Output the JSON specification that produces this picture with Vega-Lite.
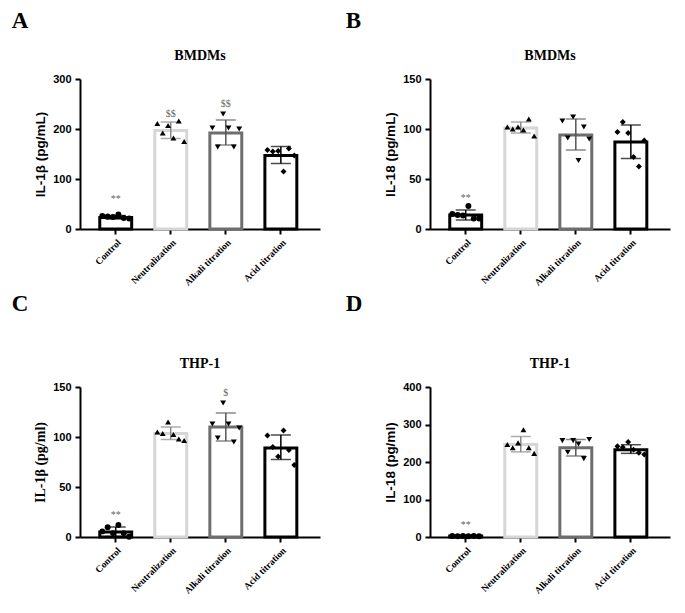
{
  "$schema": "https://vega.github.io/schema/vega-lite/v6.json",
  "background": "white",
  "padding": {"left": 11, "top": 10, "right": 5, "bottom": 5},
  "datasets": {
    "bars": [
      {"panel": "A", "group": "Control", "mean": 23, "lo": 20, "hi": 27, "ann": "**", "annY": 60},
      {"panel": "A", "group": "Neutralization", "mean": 197, "lo": 181, "hi": 214, "ann": "$$", "annY": 231},
      {"panel": "A", "group": "Alkali titration", "mean": 192, "lo": 168, "hi": 218, "ann": "$$", "annY": 251},
      {"panel": "A", "group": "Acid titration", "mean": 147, "lo": 131, "hi": 165, "ann": "", "annY": 0},
      {"panel": "B", "group": "Control", "mean": 14, "lo": 9, "hi": 19, "ann": "**", "annY": 31},
      {"panel": "B", "group": "Neutralization", "mean": 101, "lo": 96, "hi": 107, "ann": "", "annY": 0},
      {"panel": "B", "group": "Alkali titration", "mean": 94, "lo": 79, "hi": 110, "ann": "", "annY": 0},
      {"panel": "B", "group": "Acid titration", "mean": 87, "lo": 70.5, "hi": 104, "ann": "", "annY": 0},
      {"panel": "C", "group": "Control", "mean": 5, "lo": 0.5, "hi": 10, "ann": "**", "annY": 22},
      {"panel": "C", "group": "Neutralization", "mean": 103.5, "lo": 97.5, "hi": 110, "ann": "", "annY": 0},
      {"panel": "C", "group": "Alkali titration", "mean": 110, "lo": 96, "hi": 124, "ann": "$", "annY": 144},
      {"panel": "C", "group": "Acid titration", "mean": 89, "lo": 77.5, "hi": 102, "ann": "", "annY": 0},
      {"panel": "D", "group": "Control", "mean": 2.5, "lo": 2, "hi": 3, "ann": "**", "annY": 32},
      {"panel": "D", "group": "Neutralization", "mean": 246.5, "lo": 227, "hi": 268, "ann": "", "annY": 0},
      {"panel": "D", "group": "Alkali titration", "mean": 238, "lo": 216, "hi": 260, "ann": "", "annY": 0},
      {"panel": "D", "group": "Acid titration", "mean": 233, "lo": 223, "hi": 246, "ann": "", "annY": 0}
    ],
    "points": [
      {"panel": "A", "group": "Control", "rep": 1, "value": 26},
      {"panel": "A", "group": "Control", "rep": 2, "value": 25},
      {"panel": "A", "group": "Control", "rep": 3, "value": 24},
      {"panel": "A", "group": "Control", "rep": 4, "value": 29},
      {"panel": "A", "group": "Control", "rep": 5, "value": 22},
      {"panel": "A", "group": "Control", "rep": 6, "value": 21},
      {"panel": "A", "group": "Neutralization", "rep": 1, "value": 211},
      {"panel": "A", "group": "Neutralization", "rep": 2, "value": 192},
      {"panel": "A", "group": "Neutralization", "rep": 3, "value": 207},
      {"panel": "A", "group": "Neutralization", "rep": 4, "value": 182},
      {"panel": "A", "group": "Neutralization", "rep": 5, "value": 216},
      {"panel": "A", "group": "Neutralization", "rep": 6, "value": 175},
      {"panel": "A", "group": "Alkali titration", "rep": 1, "value": 202},
      {"panel": "A", "group": "Alkali titration", "rep": 2, "value": 164},
      {"panel": "A", "group": "Alkali titration", "rep": 3, "value": 230},
      {"panel": "A", "group": "Alkali titration", "rep": 4, "value": 202},
      {"panel": "A", "group": "Alkali titration", "rep": 5, "value": 164},
      {"panel": "A", "group": "Alkali titration", "rep": 6, "value": 200},
      {"panel": "A", "group": "Acid titration", "rep": 1, "value": 158},
      {"panel": "A", "group": "Acid titration", "rep": 2, "value": 155},
      {"panel": "A", "group": "Acid titration", "rep": 3, "value": 156},
      {"panel": "A", "group": "Acid titration", "rep": 4, "value": 115},
      {"panel": "A", "group": "Acid titration", "rep": 5, "value": 161},
      {"panel": "A", "group": "Acid titration", "rep": 6, "value": 147},
      {"panel": "B", "group": "Control", "rep": 1, "value": 15},
      {"panel": "B", "group": "Control", "rep": 2, "value": 14},
      {"panel": "B", "group": "Control", "rep": 3, "value": 13.5},
      {"panel": "B", "group": "Control", "rep": 4, "value": 23},
      {"panel": "B", "group": "Control", "rep": 5, "value": 10.5},
      {"panel": "B", "group": "Control", "rep": 6, "value": 10.5},
      {"panel": "B", "group": "Neutralization", "rep": 1, "value": 102},
      {"panel": "B", "group": "Neutralization", "rep": 2, "value": 100},
      {"panel": "B", "group": "Neutralization", "rep": 3, "value": 102},
      {"panel": "B", "group": "Neutralization", "rep": 4, "value": 99},
      {"panel": "B", "group": "Neutralization", "rep": 5, "value": 110},
      {"panel": "B", "group": "Neutralization", "rep": 6, "value": 93},
      {"panel": "B", "group": "Alkali titration", "rep": 1, "value": 108},
      {"panel": "B", "group": "Alkali titration", "rep": 2, "value": 91},
      {"panel": "B", "group": "Alkali titration", "rep": 3, "value": 112},
      {"panel": "B", "group": "Alkali titration", "rep": 4, "value": 68.5},
      {"panel": "B", "group": "Alkali titration", "rep": 5, "value": 102},
      {"panel": "B", "group": "Alkali titration", "rep": 6, "value": 90},
      {"panel": "B", "group": "Acid titration", "rep": 1, "value": 97},
      {"panel": "B", "group": "Acid titration", "rep": 2, "value": 107},
      {"panel": "B", "group": "Acid titration", "rep": 3, "value": 96},
      {"panel": "B", "group": "Acid titration", "rep": 4, "value": 72},
      {"panel": "B", "group": "Acid titration", "rep": 5, "value": 62.5},
      {"panel": "B", "group": "Acid titration", "rep": 6, "value": 88.5},
      {"panel": "C", "group": "Control", "rep": 1, "value": 5.6},
      {"panel": "C", "group": "Control", "rep": 2, "value": 9.8},
      {"panel": "C", "group": "Control", "rep": 3, "value": 3.9},
      {"panel": "C", "group": "Control", "rep": 4, "value": 12},
      {"panel": "C", "group": "Control", "rep": 5, "value": 3.9},
      {"panel": "C", "group": "Control", "rep": 6, "value": 0.3},
      {"panel": "C", "group": "Neutralization", "rep": 1, "value": 105},
      {"panel": "C", "group": "Neutralization", "rep": 2, "value": 103.5},
      {"panel": "C", "group": "Neutralization", "rep": 3, "value": 115},
      {"panel": "C", "group": "Neutralization", "rep": 4, "value": 102.5},
      {"panel": "C", "group": "Neutralization", "rep": 5, "value": 98},
      {"panel": "C", "group": "Neutralization", "rep": 6, "value": 96.5},
      {"panel": "C", "group": "Alkali titration", "rep": 1, "value": 113},
      {"panel": "C", "group": "Alkali titration", "rep": 2, "value": 99},
      {"panel": "C", "group": "Alkali titration", "rep": 3, "value": 134},
      {"panel": "C", "group": "Alkali titration", "rep": 4, "value": 113},
      {"panel": "C", "group": "Alkali titration", "rep": 5, "value": 95},
      {"panel": "C", "group": "Alkali titration", "rep": 6, "value": 109},
      {"panel": "C", "group": "Acid titration", "rep": 1, "value": 101.5},
      {"panel": "C", "group": "Acid titration", "rep": 2, "value": 90},
      {"panel": "C", "group": "Acid titration", "rep": 3, "value": 80.5},
      {"panel": "C", "group": "Acid titration", "rep": 4, "value": 106.5},
      {"panel": "C", "group": "Acid titration", "rep": 5, "value": 87},
      {"panel": "C", "group": "Acid titration", "rep": 6, "value": 72},
      {"panel": "D", "group": "Control", "rep": 1, "value": 3},
      {"panel": "D", "group": "Control", "rep": 2, "value": 2},
      {"panel": "D", "group": "Control", "rep": 3, "value": 3},
      {"panel": "D", "group": "Control", "rep": 4, "value": 2},
      {"panel": "D", "group": "Control", "rep": 5, "value": 3},
      {"panel": "D", "group": "Control", "rep": 6, "value": 2},
      {"panel": "D", "group": "Neutralization", "rep": 1, "value": 246.5},
      {"panel": "D", "group": "Neutralization", "rep": 2, "value": 238},
      {"panel": "D", "group": "Neutralization", "rep": 3, "value": 251},
      {"panel": "D", "group": "Neutralization", "rep": 4, "value": 286},
      {"panel": "D", "group": "Neutralization", "rep": 5, "value": 238},
      {"panel": "D", "group": "Neutralization", "rep": 6, "value": 223},
      {"panel": "D", "group": "Alkali titration", "rep": 1, "value": 257},
      {"panel": "D", "group": "Alkali titration", "rep": 2, "value": 226},
      {"panel": "D", "group": "Alkali titration", "rep": 3, "value": 257},
      {"panel": "D", "group": "Alkali titration", "rep": 4, "value": 248},
      {"panel": "D", "group": "Alkali titration", "rep": 5, "value": 209},
      {"panel": "D", "group": "Alkali titration", "rep": 6, "value": 260},
      {"panel": "D", "group": "Acid titration", "rep": 1, "value": 242},
      {"panel": "D", "group": "Acid titration", "rep": 2, "value": 239.5},
      {"panel": "D", "group": "Acid titration", "rep": 3, "value": 253.5},
      {"panel": "D", "group": "Acid titration", "rep": 4, "value": 233},
      {"panel": "D", "group": "Acid titration", "rep": 5, "value": 224.5},
      {"panel": "D", "group": "Acid titration", "rep": 6, "value": 220}
    ]
  },
  "config": {
    "view": {"stroke": null},
    "axis": {
      "domainColor": "black", "domainWidth": 2, "tickColor": "black", "tickWidth": 2, "tickSize": 5,
      "grid": false, "labelColor": "black", "titleColor": "black"
    },
    "axisX": {
      "labelAngle": -45, "labelFont": "Liberation Serif", "labelFontWeight": "bold", "labelFontSize": 9.5,
      "labelAlign": "right", "labelBaseline": "top", "labelPadding": 3, "title": null
    },
    "axisY": {
      "labelFont": "Liberation Sans", "labelFontWeight": "bold", "labelFontSize": 11, "labelPadding": 4, "labelOverlap": false,
      "titleFont": "Liberation Sans", "titleFontWeight": "bold", "titleFontSize": 13.5, "titlePadding": 5
    },
    "title": {"color": "black"},
    "point": {"filled": true, "size": 35, "color": "black", "opacity": 1}
  },
  "resolve": {"scale": {"shape": "independent"}},
  "spacing": 6,
  "vconcat": [
    {
      "spacing": 25,
      "hconcat": [
        {
          "title": {"text": "A", "anchor": "start", "frame": "bounds", "font": "Liberation Serif", "fontWeight": "bold", "fontSize": 23, "offset": 16, "dx": -22},
          "vconcat": [
            {
              "width": 240, "height": 150,
              "title": {"text": "BMDMs", "font": "Liberation Serif", "fontWeight": "bold", "fontSize": 14, "frame": "group", "offset": 10},
              "data": {"name": "bars"},
              "encoding": {
                "x": {"field": "group", "type": "nominal", "sort": ["Control", "Neutralization", "Alkali titration", "Acid titration"],
                      "scale": {"paddingInner": 0.42, "paddingOuter": 0.39, "align": 0.46}}
              },
              "layer": [
                {"transform": [{"filter": "datum.panel === 'A'"}], "mark": {"type": "bar", "fill": "white", "strokeWidth": 3},
                 "encoding": {"y": {"field": "mean", "type": "quantitative", "scale": {"domain": [0, 300], "nice": false}, "axis": {"values": [0, 100, 200, 300]}, "title": "IL-1β (pg/mL)"},
                              "stroke": {"field": "group", "type": "nominal", "scale": {"domain": ["Control", "Neutralization", "Alkali titration", "Acid titration"], "range": ["#000000", "#d6d6d6", "#6e6e6e", "#000000"]}, "legend": null}}},
                {"transform": [{"filter": "datum.panel === 'A'"}], "mark": {"type": "rule", "strokeWidth": 1.5},
                 "encoding": {"y": {"field": "lo", "type": "quantitative", "axis": {"values": [0, 100, 200, 300]}}, "y2": {"field": "hi"},
                              "color": {"field": "group", "type": "nominal", "scale": {"domain": ["Control", "Neutralization", "Alkali titration", "Acid titration"], "range": ["#000000", "#8a8a8a", "#555555", "#000000"]}, "legend": null}}},
                {"transform": [{"filter": "datum.panel === 'A'"}], "mark": {"type": "tick", "size": 20, "thickness": 1.5}, "encoding": {"y": {"field": "lo", "type": "quantitative", "axis": {"values": [0, 100, 200, 300]}}, "color": {"field": "group", "type": "nominal", "legend": null}}},
                {"transform": [{"filter": "datum.panel === 'A'"}], "mark": {"type": "tick", "size": 20, "thickness": 1.5}, "encoding": {"y": {"field": "hi", "type": "quantitative", "axis": {"values": [0, 100, 200, 300]}}, "color": {"field": "group", "type": "nominal", "legend": null}}},
                {"data": {"name": "points"}, "transform": [{"filter": "datum.panel === 'A' && datum.rep === 1"}], "mark": "point",
                 "encoding": {"x": {"field": "group", "type": "nominal", "sort": ["Control", "Neutralization", "Alkali titration", "Acid titration"], "bandPosition": 0.08}, "y": {"field": "value", "type": "quantitative", "axis": {"values": [0, 100, 200, 300]}},
                              "shape": {"field": "group", "type": "nominal", "scale": {"domain": ["Control", "Neutralization", "Alkali titration", "Acid titration"], "range": ["circle", "triangle-up", "triangle-down", "diamond"]}, "legend": null}}},
                {"data": {"name": "points"}, "transform": [{"filter": "datum.panel === 'A' && datum.rep === 2"}], "mark": "point",
                 "encoding": {"x": {"field": "group", "type": "nominal", "sort": ["Control", "Neutralization", "Alkali titration", "Acid titration"], "bandPosition": 0.248}, "y": {"field": "value", "type": "quantitative", "axis": {"values": [0, 100, 200, 300]}}, "shape": {"field": "group", "type": "nominal", "legend": null}}},
                {"data": {"name": "points"}, "transform": [{"filter": "datum.panel === 'A' && datum.rep === 3"}], "mark": "point",
                 "encoding": {"x": {"field": "group", "type": "nominal", "sort": ["Control", "Neutralization", "Alkali titration", "Acid titration"], "bandPosition": 0.416}, "y": {"field": "value", "type": "quantitative", "axis": {"values": [0, 100, 200, 300]}}, "shape": {"field": "group", "type": "nominal", "legend": null}}},
                {"data": {"name": "points"}, "transform": [{"filter": "datum.panel === 'A' && datum.rep === 4"}], "mark": "point",
                 "encoding": {"x": {"field": "group", "type": "nominal", "sort": ["Control", "Neutralization", "Alkali titration", "Acid titration"], "bandPosition": 0.584}, "y": {"field": "value", "type": "quantitative", "axis": {"values": [0, 100, 200, 300]}}, "shape": {"field": "group", "type": "nominal", "legend": null}}},
                {"data": {"name": "points"}, "transform": [{"filter": "datum.panel === 'A' && datum.rep === 5"}], "mark": "point",
                 "encoding": {"x": {"field": "group", "type": "nominal", "sort": ["Control", "Neutralization", "Alkali titration", "Acid titration"], "bandPosition": 0.752}, "y": {"field": "value", "type": "quantitative", "axis": {"values": [0, 100, 200, 300]}}, "shape": {"field": "group", "type": "nominal", "legend": null}}},
                {"data": {"name": "points"}, "transform": [{"filter": "datum.panel === 'A' && datum.rep === 6"}], "mark": "point",
                 "encoding": {"x": {"field": "group", "type": "nominal", "sort": ["Control", "Neutralization", "Alkali titration", "Acid titration"], "bandPosition": 0.92}, "y": {"field": "value", "type": "quantitative", "axis": {"values": [0, 100, 200, 300]}}, "shape": {"field": "group", "type": "nominal", "legend": null}}},
                {"transform": [{"filter": "datum.panel === 'A'"}], "mark": {"type": "text", "font": "Liberation Serif", "fontSize": 10, "color": "#666666"},
                 "encoding": {"y": {"field": "annY", "type": "quantitative", "axis": {"values": [0, 100, 200, 300]}}, "text": {"field": "ann"}}}
              ]
            }
          ]
        },
        {
          "title": {"text": "B", "anchor": "start", "frame": "bounds", "font": "Liberation Serif", "fontWeight": "bold", "fontSize": 23, "offset": 16, "dx": -38},
          "vconcat": [
            {
              "width": 240, "height": 150,
              "title": {"text": "BMDMs", "font": "Liberation Serif", "fontWeight": "bold", "fontSize": 14, "frame": "group", "offset": 10},
              "data": {"name": "bars"},
              "encoding": {
                "x": {"field": "group", "type": "nominal", "sort": ["Control", "Neutralization", "Alkali titration", "Acid titration"],
                      "scale": {"paddingInner": 0.42, "paddingOuter": 0.39, "align": 0.46}}
              },
              "layer": [
                {"transform": [{"filter": "datum.panel === 'B'"}], "mark": {"type": "bar", "fill": "white", "strokeWidth": 3},
                 "encoding": {"y": {"field": "mean", "type": "quantitative", "scale": {"domain": [0, 150], "nice": false}, "axis": {"values": [0, 50, 100, 150]}, "title": "IL-18 (pg/mL)"},
                              "stroke": {"field": "group", "type": "nominal", "scale": {"domain": ["Control", "Neutralization", "Alkali titration", "Acid titration"], "range": ["#000000", "#d6d6d6", "#6e6e6e", "#000000"]}, "legend": null}}},
                {"transform": [{"filter": "datum.panel === 'B'"}], "mark": {"type": "rule", "strokeWidth": 1.5},
                 "encoding": {"y": {"field": "lo", "type": "quantitative", "axis": {"values": [0, 50, 100, 150]}}, "y2": {"field": "hi"},
                              "color": {"field": "group", "type": "nominal", "scale": {"domain": ["Control", "Neutralization", "Alkali titration", "Acid titration"], "range": ["#000000", "#8a8a8a", "#555555", "#000000"]}, "legend": null}}},
                {"transform": [{"filter": "datum.panel === 'B'"}], "mark": {"type": "tick", "size": 20, "thickness": 1.5}, "encoding": {"y": {"field": "lo", "type": "quantitative", "axis": {"values": [0, 50, 100, 150]}}, "color": {"field": "group", "type": "nominal", "legend": null}}},
                {"transform": [{"filter": "datum.panel === 'B'"}], "mark": {"type": "tick", "size": 20, "thickness": 1.5}, "encoding": {"y": {"field": "hi", "type": "quantitative", "axis": {"values": [0, 50, 100, 150]}}, "color": {"field": "group", "type": "nominal", "legend": null}}},
                {"data": {"name": "points"}, "transform": [{"filter": "datum.panel === 'B' && datum.rep === 1"}], "mark": "point",
                 "encoding": {"x": {"field": "group", "type": "nominal", "sort": ["Control", "Neutralization", "Alkali titration", "Acid titration"], "bandPosition": 0.08}, "y": {"field": "value", "type": "quantitative", "axis": {"values": [0, 50, 100, 150]}},
                              "shape": {"field": "group", "type": "nominal", "scale": {"domain": ["Control", "Neutralization", "Alkali titration", "Acid titration"], "range": ["circle", "triangle-up", "triangle-down", "diamond"]}, "legend": null}}},
                {"data": {"name": "points"}, "transform": [{"filter": "datum.panel === 'B' && datum.rep === 2"}], "mark": "point",
                 "encoding": {"x": {"field": "group", "type": "nominal", "sort": ["Control", "Neutralization", "Alkali titration", "Acid titration"], "bandPosition": 0.248}, "y": {"field": "value", "type": "quantitative", "axis": {"values": [0, 50, 100, 150]}}, "shape": {"field": "group", "type": "nominal", "legend": null}}},
                {"data": {"name": "points"}, "transform": [{"filter": "datum.panel === 'B' && datum.rep === 3"}], "mark": "point",
                 "encoding": {"x": {"field": "group", "type": "nominal", "sort": ["Control", "Neutralization", "Alkali titration", "Acid titration"], "bandPosition": 0.416}, "y": {"field": "value", "type": "quantitative", "axis": {"values": [0, 50, 100, 150]}}, "shape": {"field": "group", "type": "nominal", "legend": null}}},
                {"data": {"name": "points"}, "transform": [{"filter": "datum.panel === 'B' && datum.rep === 4"}], "mark": "point",
                 "encoding": {"x": {"field": "group", "type": "nominal", "sort": ["Control", "Neutralization", "Alkali titration", "Acid titration"], "bandPosition": 0.584}, "y": {"field": "value", "type": "quantitative", "axis": {"values": [0, 50, 100, 150]}}, "shape": {"field": "group", "type": "nominal", "legend": null}}},
                {"data": {"name": "points"}, "transform": [{"filter": "datum.panel === 'B' && datum.rep === 5"}], "mark": "point",
                 "encoding": {"x": {"field": "group", "type": "nominal", "sort": ["Control", "Neutralization", "Alkali titration", "Acid titration"], "bandPosition": 0.752}, "y": {"field": "value", "type": "quantitative", "axis": {"values": [0, 50, 100, 150]}}, "shape": {"field": "group", "type": "nominal", "legend": null}}},
                {"data": {"name": "points"}, "transform": [{"filter": "datum.panel === 'B' && datum.rep === 6"}], "mark": "point",
                 "encoding": {"x": {"field": "group", "type": "nominal", "sort": ["Control", "Neutralization", "Alkali titration", "Acid titration"], "bandPosition": 0.92}, "y": {"field": "value", "type": "quantitative", "axis": {"values": [0, 50, 100, 150]}}, "shape": {"field": "group", "type": "nominal", "legend": null}}},
                {"transform": [{"filter": "datum.panel === 'B'"}], "mark": {"type": "text", "font": "Liberation Serif", "fontSize": 10, "color": "#666666"},
                 "encoding": {"y": {"field": "annY", "type": "quantitative", "axis": {"values": [0, 50, 100, 150]}}, "text": {"field": "ann"}}}
              ]
            }
          ]
        }
      ]
    },
    {
      "spacing": 25,
      "hconcat": [
        {
          "title": {"text": "C", "anchor": "start", "frame": "bounds", "font": "Liberation Serif", "fontWeight": "bold", "fontSize": 23, "offset": 41, "dx": -22},
          "vconcat": [
            {
              "width": 240, "height": 150,
              "title": {"text": "THP-1", "font": "Liberation Serif", "fontWeight": "bold", "fontSize": 14, "frame": "group", "offset": 10},
              "data": {"name": "bars"},
              "encoding": {
                "x": {"field": "group", "type": "nominal", "sort": ["Control", "Neutralization", "Alkali titration", "Acid titration"],
                      "scale": {"paddingInner": 0.42, "paddingOuter": 0.39, "align": 0.46}}
              },
              "layer": [
                {"transform": [{"filter": "datum.panel === 'C'"}], "mark": {"type": "bar", "fill": "white", "strokeWidth": 3},
                 "encoding": {"y": {"field": "mean", "type": "quantitative", "scale": {"domain": [0, 150], "nice": false}, "axis": {"values": [0, 50, 100, 150], "titleFont": "Liberation Serif", "titleFontSize": 14}, "title": "IL-1β (pg/ml)"},
                              "stroke": {"field": "group", "type": "nominal", "scale": {"domain": ["Control", "Neutralization", "Alkali titration", "Acid titration"], "range": ["#000000", "#d6d6d6", "#6e6e6e", "#000000"]}, "legend": null}}},
                {"transform": [{"filter": "datum.panel === 'C'"}], "mark": {"type": "rule", "strokeWidth": 1.5},
                 "encoding": {"y": {"field": "lo", "type": "quantitative", "axis": {"values": [0, 50, 100, 150], "titleFont": "Liberation Serif", "titleFontSize": 14}}, "y2": {"field": "hi"},
                              "color": {"field": "group", "type": "nominal", "scale": {"domain": ["Control", "Neutralization", "Alkali titration", "Acid titration"], "range": ["#000000", "#8a8a8a", "#555555", "#000000"]}, "legend": null}}},
                {"transform": [{"filter": "datum.panel === 'C'"}], "mark": {"type": "tick", "size": 20, "thickness": 1.5}, "encoding": {"y": {"field": "lo", "type": "quantitative", "axis": {"values": [0, 50, 100, 150], "titleFont": "Liberation Serif", "titleFontSize": 14}}, "color": {"field": "group", "type": "nominal", "legend": null}}},
                {"transform": [{"filter": "datum.panel === 'C'"}], "mark": {"type": "tick", "size": 20, "thickness": 1.5}, "encoding": {"y": {"field": "hi", "type": "quantitative", "axis": {"values": [0, 50, 100, 150], "titleFont": "Liberation Serif", "titleFontSize": 14}}, "color": {"field": "group", "type": "nominal", "legend": null}}},
                {"data": {"name": "points"}, "transform": [{"filter": "datum.panel === 'C' && datum.rep === 1"}], "mark": "point",
                 "encoding": {"x": {"field": "group", "type": "nominal", "sort": ["Control", "Neutralization", "Alkali titration", "Acid titration"], "bandPosition": 0.08}, "y": {"field": "value", "type": "quantitative", "axis": {"values": [0, 50, 100, 150], "titleFont": "Liberation Serif", "titleFontSize": 14}},
                              "shape": {"field": "group", "type": "nominal", "scale": {"domain": ["Control", "Neutralization", "Alkali titration", "Acid titration"], "range": ["circle", "triangle-up", "triangle-down", "diamond"]}, "legend": null}}},
                {"data": {"name": "points"}, "transform": [{"filter": "datum.panel === 'C' && datum.rep === 2"}], "mark": "point",
                 "encoding": {"x": {"field": "group", "type": "nominal", "sort": ["Control", "Neutralization", "Alkali titration", "Acid titration"], "bandPosition": 0.248}, "y": {"field": "value", "type": "quantitative", "axis": {"values": [0, 50, 100, 150], "titleFont": "Liberation Serif", "titleFontSize": 14}}, "shape": {"field": "group", "type": "nominal", "legend": null}}},
                {"data": {"name": "points"}, "transform": [{"filter": "datum.panel === 'C' && datum.rep === 3"}], "mark": "point",
                 "encoding": {"x": {"field": "group", "type": "nominal", "sort": ["Control", "Neutralization", "Alkali titration", "Acid titration"], "bandPosition": 0.416}, "y": {"field": "value", "type": "quantitative", "axis": {"values": [0, 50, 100, 150], "titleFont": "Liberation Serif", "titleFontSize": 14}}, "shape": {"field": "group", "type": "nominal", "legend": null}}},
                {"data": {"name": "points"}, "transform": [{"filter": "datum.panel === 'C' && datum.rep === 4"}], "mark": "point",
                 "encoding": {"x": {"field": "group", "type": "nominal", "sort": ["Control", "Neutralization", "Alkali titration", "Acid titration"], "bandPosition": 0.584}, "y": {"field": "value", "type": "quantitative", "axis": {"values": [0, 50, 100, 150], "titleFont": "Liberation Serif", "titleFontSize": 14}}, "shape": {"field": "group", "type": "nominal", "legend": null}}},
                {"data": {"name": "points"}, "transform": [{"filter": "datum.panel === 'C' && datum.rep === 5"}], "mark": "point",
                 "encoding": {"x": {"field": "group", "type": "nominal", "sort": ["Control", "Neutralization", "Alkali titration", "Acid titration"], "bandPosition": 0.752}, "y": {"field": "value", "type": "quantitative", "axis": {"values": [0, 50, 100, 150], "titleFont": "Liberation Serif", "titleFontSize": 14}}, "shape": {"field": "group", "type": "nominal", "legend": null}}},
                {"data": {"name": "points"}, "transform": [{"filter": "datum.panel === 'C' && datum.rep === 6"}], "mark": "point",
                 "encoding": {"x": {"field": "group", "type": "nominal", "sort": ["Control", "Neutralization", "Alkali titration", "Acid titration"], "bandPosition": 0.92}, "y": {"field": "value", "type": "quantitative", "axis": {"values": [0, 50, 100, 150], "titleFont": "Liberation Serif", "titleFontSize": 14}}, "shape": {"field": "group", "type": "nominal", "legend": null}}},
                {"transform": [{"filter": "datum.panel === 'C'"}], "mark": {"type": "text", "font": "Liberation Serif", "fontSize": 10, "color": "#666666"},
                 "encoding": {"y": {"field": "annY", "type": "quantitative", "axis": {"values": [0, 50, 100, 150], "titleFont": "Liberation Serif", "titleFontSize": 14}}, "text": {"field": "ann"}}}
              ]
            }
          ]
        },
        {
          "title": {"text": "D", "anchor": "start", "frame": "bounds", "font": "Liberation Serif", "fontWeight": "bold", "fontSize": 23, "offset": 41, "dx": -38},
          "vconcat": [
            {
              "width": 240, "height": 150,
              "title": {"text": "THP-1", "font": "Liberation Serif", "fontWeight": "bold", "fontSize": 14, "frame": "group", "offset": 10},
              "data": {"name": "bars"},
              "encoding": {
                "x": {"field": "group", "type": "nominal", "sort": ["Control", "Neutralization", "Alkali titration", "Acid titration"],
                      "scale": {"paddingInner": 0.42, "paddingOuter": 0.39, "align": 0.46}}
              },
              "layer": [
                {"transform": [{"filter": "datum.panel === 'D'"}], "mark": {"type": "bar", "fill": "white", "strokeWidth": 3},
                 "encoding": {"y": {"field": "mean", "type": "quantitative", "scale": {"domain": [0, 400], "nice": false}, "axis": {"values": [0, 100, 200, 300, 400]}, "title": "IL-18 (pg/ml)"},
                              "stroke": {"field": "group", "type": "nominal", "scale": {"domain": ["Control", "Neutralization", "Alkali titration", "Acid titration"], "range": ["#000000", "#d6d6d6", "#6e6e6e", "#000000"]}, "legend": null}}},
                {"transform": [{"filter": "datum.panel === 'D'"}], "mark": {"type": "rule", "strokeWidth": 1.5},
                 "encoding": {"y": {"field": "lo", "type": "quantitative", "axis": {"values": [0, 100, 200, 300, 400]}}, "y2": {"field": "hi"},
                              "color": {"field": "group", "type": "nominal", "scale": {"domain": ["Control", "Neutralization", "Alkali titration", "Acid titration"], "range": ["#000000", "#8a8a8a", "#555555", "#000000"]}, "legend": null}}},
                {"transform": [{"filter": "datum.panel === 'D'"}], "mark": {"type": "tick", "size": 20, "thickness": 1.5}, "encoding": {"y": {"field": "lo", "type": "quantitative", "axis": {"values": [0, 100, 200, 300, 400]}}, "color": {"field": "group", "type": "nominal", "legend": null}}},
                {"transform": [{"filter": "datum.panel === 'D'"}], "mark": {"type": "tick", "size": 20, "thickness": 1.5}, "encoding": {"y": {"field": "hi", "type": "quantitative", "axis": {"values": [0, 100, 200, 300, 400]}}, "color": {"field": "group", "type": "nominal", "legend": null}}},
                {"data": {"name": "points"}, "transform": [{"filter": "datum.panel === 'D' && datum.rep === 1"}], "mark": "point",
                 "encoding": {"x": {"field": "group", "type": "nominal", "sort": ["Control", "Neutralization", "Alkali titration", "Acid titration"], "bandPosition": 0.08}, "y": {"field": "value", "type": "quantitative", "axis": {"values": [0, 100, 200, 300, 400]}},
                              "shape": {"field": "group", "type": "nominal", "scale": {"domain": ["Control", "Neutralization", "Alkali titration", "Acid titration"], "range": ["circle", "triangle-up", "triangle-down", "square"]}, "legend": null}}},
                {"data": {"name": "points"}, "transform": [{"filter": "datum.panel === 'D' && datum.rep === 2"}], "mark": "point",
                 "encoding": {"x": {"field": "group", "type": "nominal", "sort": ["Control", "Neutralization", "Alkali titration", "Acid titration"], "bandPosition": 0.248}, "y": {"field": "value", "type": "quantitative", "axis": {"values": [0, 100, 200, 300, 400]}}, "shape": {"field": "group", "type": "nominal", "legend": null}}},
                {"data": {"name": "points"}, "transform": [{"filter": "datum.panel === 'D' && datum.rep === 3"}], "mark": "point",
                 "encoding": {"x": {"field": "group", "type": "nominal", "sort": ["Control", "Neutralization", "Alkali titration", "Acid titration"], "bandPosition": 0.416}, "y": {"field": "value", "type": "quantitative", "axis": {"values": [0, 100, 200, 300, 400]}}, "shape": {"field": "group", "type": "nominal", "legend": null}}},
                {"data": {"name": "points"}, "transform": [{"filter": "datum.panel === 'D' && datum.rep === 4"}], "mark": "point",
                 "encoding": {"x": {"field": "group", "type": "nominal", "sort": ["Control", "Neutralization", "Alkali titration", "Acid titration"], "bandPosition": 0.584}, "y": {"field": "value", "type": "quantitative", "axis": {"values": [0, 100, 200, 300, 400]}}, "shape": {"field": "group", "type": "nominal", "legend": null}}},
                {"data": {"name": "points"}, "transform": [{"filter": "datum.panel === 'D' && datum.rep === 5"}], "mark": "point",
                 "encoding": {"x": {"field": "group", "type": "nominal", "sort": ["Control", "Neutralization", "Alkali titration", "Acid titration"], "bandPosition": 0.752}, "y": {"field": "value", "type": "quantitative", "axis": {"values": [0, 100, 200, 300, 400]}}, "shape": {"field": "group", "type": "nominal", "legend": null}}},
                {"data": {"name": "points"}, "transform": [{"filter": "datum.panel === 'D' && datum.rep === 6"}], "mark": "point",
                 "encoding": {"x": {"field": "group", "type": "nominal", "sort": ["Control", "Neutralization", "Alkali titration", "Acid titration"], "bandPosition": 0.92}, "y": {"field": "value", "type": "quantitative", "axis": {"values": [0, 100, 200, 300, 400]}}, "shape": {"field": "group", "type": "nominal", "legend": null}}},
                {"transform": [{"filter": "datum.panel === 'D'"}], "mark": {"type": "text", "font": "Liberation Serif", "fontSize": 10, "color": "#666666"},
                 "encoding": {"y": {"field": "annY", "type": "quantitative", "axis": {"values": [0, 100, 200, 300, 400]}}, "text": {"field": "ann"}}}
              ]
            }
          ]
        }
      ]
    }
  ]
}
